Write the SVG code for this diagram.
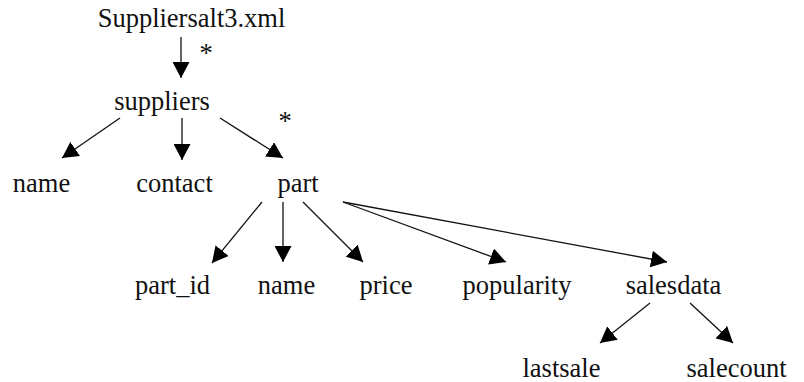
<svg xmlns="http://www.w3.org/2000/svg" width="804" height="382" viewBox="0 0 804 382">
<style>
text{font-family:'Liberation Serif', 'Times New Roman', serif;font-size:26.5px;fill:#111;text-anchor:middle}
.e line{stroke:#111;stroke-width:1.3;marker-end:url(#ah)}
</style>
<defs>
<marker id="ah" markerWidth="17" markerHeight="17" refX="16" refY="8.5" orient="auto" markerUnits="userSpaceOnUse"><path d="M0,0 L16,8.5 L0,17 z" fill="#000"/></marker>
</defs>
<rect width="804" height="382" fill="#fff"/>
<g class="e" id="connectors">
<line x1="181" y1="37" x2="181" y2="78"/>
<line x1="120" y1="118" x2="62" y2="158"/>
<line x1="182" y1="118" x2="182" y2="160"/>
<line x1="220" y1="118" x2="283" y2="158"/>
<line x1="262" y1="202" x2="212" y2="263"/>
<line x1="283" y1="202" x2="283" y2="262"/>
<line x1="303" y1="202" x2="363" y2="262"/>
<line x1="343" y1="202" x2="506" y2="262"/>
<line x1="343" y1="202" x2="667" y2="262"/>
<line x1="650" y1="303" x2="600" y2="343"/>
<line x1="690" y1="303" x2="733" y2="343"/>
</g>
<g id="labels">
<text x="206" y="62">*</text>
<text x="285" y="130">*</text>
</g>
<g id="n-root"><text x="191.5" y="27">Suppliersalt3.xml</text></g>
<g id="n-suppliers"><text x="162" y="110">suppliers</text></g>
<g id="n-name1"><text x="41.5" y="192">name</text></g>
<g id="n-contact"><text x="174.5" y="192">contact</text></g>
<g id="n-part"><text x="298" y="192">part</text></g>
<g id="n-part_id"><text x="172.5" y="294">part_id</text></g>
<g id="n-name2"><text x="286.5" y="294">name</text></g>
<g id="n-price"><text x="386" y="294">price</text></g>
<g id="n-popularity"><text x="517" y="294">popularity</text></g>
<g id="n-salesdata"><text x="673.5" y="294">salesdata</text></g>
<g id="n-lastsale"><text x="561.5" y="377">lastsale</text></g>
<g id="n-salecount"><text x="736.5" y="377">salecount</text></g>
</svg>
